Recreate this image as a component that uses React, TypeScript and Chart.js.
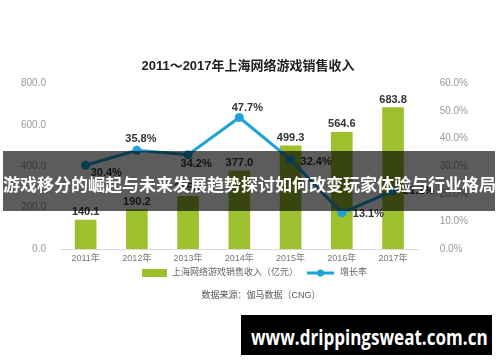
import React, { useEffect, useRef } from 'react';
import { Chart, registerables } from 'chart.js';

Chart.register(...registerables);

// ---- data ----
const categories = ['2011年', '2012年', '2013年', '2014年', '2015年', '2016年', '2017年'];
const revenue = [140.1, 190.2, 255.2, 377.0, 499.3, 564.6, 683.8];
const growth = [30.4, 35.8, 34.2, 47.7, 32.4, 13.1, 21.1];
const leftAxis = { min: 0, max: 800, step: 200 };
const rightAxis = { min: 0, max: 60, step: 10 };
const titleText = '2011～2017年上海网络游戏销售收入';
const revenueLabel = '上海网络游戏销售收入（亿元）';
const growthLabel = '增长率';
const sourceText = '数据来源：伽马数据（CNG）';
const bannerText = '游戏移分的崛起与未来发展趋势探讨如何改变玩家体验与行业格局';
const watermarkText = 'www.drippingsweat.com.cn';

// ---- style ----
const FONT = "'Liberation Sans', 'Noto Sans CJK SC', sans-serif";
const BAR_COLOR = '#9cc02e';
const LINE_COLOR = '#1ea2d8';
const growthPlacement = [
  { dx: 5, dy: 8, align: 'left' },
  { dx: 4, dy: -11, align: 'center' },
  { dx: 8, dy: 9, align: 'center' },
  { dx: 8, dy: -10, align: 'center' },
  { dx: 10, dy: 2, align: 'left' },
  { dx: 11, dy: 1, align: 'left' },
  { dx: 10, dy: 0, align: 'left' },
];

const labelsPlugin = {
  id: 'valueLabels',
  afterDatasetsDraw(chart: any) {
    const ctx = chart.ctx;
    ctx.save();
    ctx.font = `bold 11px ${FONT}`;
    ctx.fillStyle = '#333';
    ctx.textBaseline = 'middle';
    const barMeta = chart.getDatasetMeta(1);
    barMeta.data.forEach((el: any, i: number) => {
      ctx.textAlign = 'center';
      ctx.fillText(revenue[i].toFixed(1), el.x, el.y - 8);
    });
    const lineMeta = chart.getDatasetMeta(0);
    lineMeta.data.forEach((el: any, i: number) => {
      const p = growthPlacement[i];
      ctx.textAlign = p.align;
      ctx.fillText(growth[i].toFixed(1) + '%', el.x + p.dx, el.y + p.dy);
    });
    ctx.restore();
  },
  afterDraw(chart: any) {
    const ctx = chart.ctx;
    ctx.save();
    const ly = 273;
    // revenue legend
    ctx.fillStyle = BAR_COLOR;
    ctx.fillRect(142, ly - 4, 25, 8);
    ctx.font = `9px ${FONT}`;
    ctx.fillStyle = '#666';
    ctx.textAlign = 'left';
    ctx.textBaseline = 'middle';
    ctx.fillText(revenueLabel, 172, ly);
    // growth legend
    ctx.strokeStyle = LINE_COLOR;
    ctx.lineWidth = 3;
    ctx.beginPath();
    ctx.moveTo(307, ly);
    ctx.lineTo(334, ly);
    ctx.stroke();
    ctx.fillStyle = LINE_COLOR;
    ctx.beginPath();
    ctx.arc(320.5, ly, 3.5, 0, Math.PI * 2);
    ctx.fill();
    ctx.fillStyle = '#666';
    ctx.fillText(growthLabel, 340, ly);
    // source
    ctx.fillStyle = '#555';
    ctx.textAlign = 'center';
    ctx.fillText(sourceText, 261, 296);
    ctx.restore();
  },
};

export default function App() {
  const ref = useRef<HTMLCanvasElement>(null);
  useEffect(() => {
    if (!ref.current) return;
    const chart = new Chart(ref.current, {
      type: 'bar',
      data: {
        labels: categories,
        datasets: [
          {
            type: 'line',
            label: growthLabel,
            data: growth,
            yAxisID: 'y1',
            borderColor: LINE_COLOR,
            backgroundColor: LINE_COLOR,
            borderWidth: 3,
            pointRadius: 4.5,
            pointBackgroundColor: LINE_COLOR,
            pointBorderWidth: 0,
            tension: 0,
            order: 0,
          } as any,
          {
            type: 'bar',
            label: revenueLabel,
            data: revenue,
            yAxisID: 'y',
            backgroundColor: BAR_COLOR,
            barThickness: 21,
            order: 1,
          },
        ],
      },
      options: {
        responsive: false,
        animation: false,
        events: [],
        layout: { padding: { left: 7, right: 11, top: 0, bottom: 93 } },
        plugins: {
          legend: { display: false },
          tooltip: { enabled: false },
          title: {
            display: true,
            text: titleText,
            color: '#222',
            font: { family: FONT, size: 13, weight: 'bold', lineHeight: 1.2 },
            padding: { top: 59, bottom: 9 },
          },
        },
        scales: {
          x: {
            grid: { display: false, drawTicks: false },
            border: { display: true, color: '#dcdcdc', width: 1 },
            ticks: { color: '#777', font: { family: FONT, size: 9 }, padding: 4.6 },
          },
          y: {
            position: 'left',
            min: leftAxis.min,
            max: leftAxis.max,
            grid: { display: false, drawTicks: false },
            border: { display: false },
            ticks: {
              stepSize: leftAxis.step,
              color: '#999',
              font: { family: FONT, size: 10 },
              padding: 14,
              callback: (v: any) => Number(v).toFixed(1),
            },
          },
          y1: {
            position: 'right',
            min: rightAxis.min,
            max: rightAxis.max,
            grid: { display: false, drawTicks: false },
            border: { display: false },
            ticks: {
              stepSize: rightAxis.step,
              color: '#999',
              font: { family: FONT, size: 10 },
              padding: 21,
              callback: (v: any) => Number(v).toFixed(1) + '%',
            },
          },
        },
      } as any,
      plugins: [labelsPlugin],
    });
    return () => chart.destroy();
  }, []);

  return (
    <div style={{ position: 'fixed', left: 0, top: 0, width: 500, height: 362, background: '#fff', overflow: 'hidden' }}>
      <canvas ref={ref} width={500} height={362} style={{ display: 'block', width: 500, height: 362 }} />
      <div
        style={{
          position: 'absolute', left: 3, top: 151, width: 492, height: 60,
          background: 'rgba(0,0,0,0.64)', color: '#fff',
          fontFamily: "'Noto Sans CJK SC', sans-serif", fontWeight: 'bold', fontSize: 17,
          lineHeight: '60px', textAlign: 'center', whiteSpace: 'nowrap',
        }}
      >
        <span style={{ position: 'relative', top: 3 }}>{bannerText}</span>
      </div>
      <div
        style={{
          position: 'absolute', left: 241, top: 315, width: 251, height: 40,
          background: '#000', color: '#fff',
          fontFamily: "'Open Sans', sans-serif", fontWeight: 'bold', fontSize: 22,
          lineHeight: '40px', whiteSpace: 'nowrap', overflow: 'hidden',
        }}
      >
        <span
          style={{
            position: 'absolute', left: 10, top: 1,
            transform: 'scaleX(0.775)', transformOrigin: '0 50%',
          }}
        >
          {watermarkText}
        </span>
      </div>
    </div>
  );
}
